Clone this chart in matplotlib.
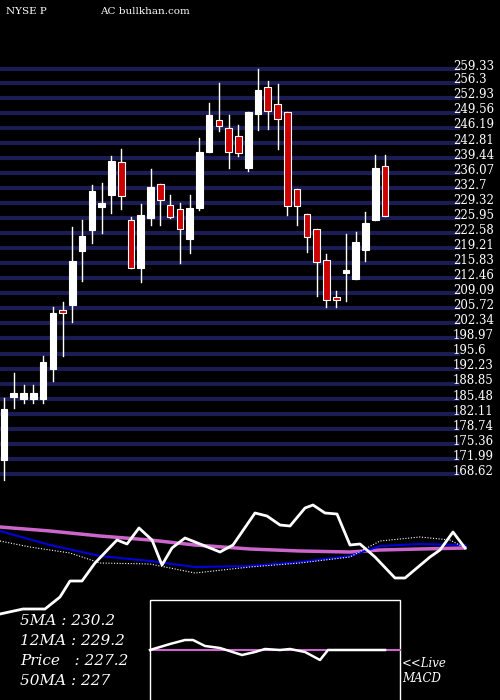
import matplotlib
matplotlib.use("Agg")
import matplotlib.pyplot as plt

# candles: open, high, low, close
opens = [171.7, 185.9, 185.4, 185.4, 185.4, 192.1, 205.1, 206.5, 218.6, 223.3,
         228.4, 231.1, 238.5, 225.5, 214.8, 226.0, 233.6, 228.9, 228.0, 221.2,
         228.2, 240.7, 247.9, 246.1, 244.3, 237.1, 249.2, 255.3, 251.5, 249.7,
         232.4, 226.8, 223.5, 216.5, 208.3, 213.6, 212.3, 218.8, 225.5, 237.6]
highs = [185.6, 191.2, 188.5, 188.5, 195.0, 206.0, 207.1, 223.9, 225.5, 233.3,
         233.8, 239.8, 241.4, 226.2, 229.1, 236.9, 233.6, 231.1, 229.3, 231.1,
         243.9, 251.7, 256.2, 249.0, 246.8, 249.7, 259.3, 256.6, 256.0, 249.7,
         232.4, 226.8, 223.5, 217.9, 209.7, 222.4, 222.8, 227.3, 240.1, 240.1]
lows = [167.3, 183.4, 184.5, 184.5, 184.5, 189.4, 195.0, 202.7, 211.8, 220.4,
        222.6, 227.1, 228.0, 214.8, 211.6, 224.4, 224.4, 226.0, 215.9, 218.1,
        227.7, 240.7, 245.4, 237.1, 239.8, 236.5, 245.6, 245.9, 241.4, 226.6,
        224.4, 218.3, 208.5, 206.0, 206.0, 207.4, 212.3, 216.3, 225.5, 226.4]
closes = [183.2, 186.8, 186.8, 186.8, 193.7, 204.7, 204.7, 216.3, 221.9, 232.0,
          229.3, 238.7, 230.9, 214.8, 226.6, 232.9, 230.0, 226.2, 223.5, 228.2,
          240.7, 249.0, 246.5, 240.7, 240.5, 249.7, 254.6, 249.9, 248.1, 228.6,
          228.6, 221.7, 216.1, 207.6, 207.6, 214.3, 220.6, 224.8, 237.1, 226.4]
price_levels = [259.33, 256.3, 252.93, 249.56, 246.19, 242.81, 239.44, 236.07, 232.7,
                229.32, 225.95, 222.58, 219.21, 215.83, 212.46, 209.09, 205.72, 202.34,
                198.97, 195.6, 192.23, 188.85, 185.48, 182.11, 178.74, 175.36, 171.99, 168.62]

# indicator panel (pixel-scale readings)
ind_x = [0, 50, 100, 150, 195, 250, 300, 350, 380, 420, 465]
ma_pink = [527, 531, 536, 540, 545, 549, 551, 552, 550, 549, 548]
ma_blue = [531, 545, 556, 561, 567, 566, 562, 556, 546, 544, 545]
dot_x = [0, 30, 70, 100, 150, 195, 250, 300, 350, 380, 420, 450, 465]
ma_dot = [541, 547, 553, 563, 564, 573, 567, 563, 557, 541, 537, 540, 548]
osc_x = [0, 23, 45, 60, 70, 82, 95, 117, 127, 139, 152, 162, 172, 185, 220, 233, 255,
         267, 280, 290, 305, 313, 325, 337, 350, 360, 375, 395, 405, 430, 440, 453, 465]
osc = [614, 609, 609, 597, 581, 581, 563, 540, 544, 528, 540, 565, 548, 538, 552, 545, 513,
       516, 525, 526, 508, 505, 513, 514, 545, 544, 557, 578, 578, 557, 550, 532, 548]
macd_x = [150, 170, 185, 193, 205, 220, 242, 255, 265, 280, 290, 305, 320, 328, 385]
macd = [650, 644, 640, 640, 646, 648, 655, 652, 649, 650, 649, 652, 660, 650, 650]

W, H = 500, 700
fig = plt.figure(figsize=(5, 7), dpi=100, facecolor="black")

# ---------------------------------------------------------- price panel
ax = fig.add_axes([0, 0, 1, 1])
ax.set_facecolor("black")
ax.axis("off")
step = 9.77
ax.set_xlim(-4 / step, (W - 4) / step)
ax.set_ylim(259.33 - (H - 69) * 0.224, 259.33 + 69 * 0.224)

for lv in price_levels:
    ax.plot([-0.5, 454 / step], [lv, lv], color="#1c1c55", lw=3, zorder=1)
    ax.text(449 / step, lv + 0.6, f"{lv:g}", color="white", fontsize=8.5,
            family="DejaVu Serif", va="center", ha="left")

for i, (o, h, l, c) in enumerate(zip(opens, highs, lows, closes)):
    ax.plot([i, i], [l, h], color="white", lw=1, zorder=2)
    up = c >= o
    lo, hi = min(o, c), max(o, c)
    ax.bar(i, max(hi - lo, 0.6), bottom=lo, width=0.68,
           color="white" if up else "#cc0000", edgecolor="white", lw=0.8, zorder=3)

# ---------------------------------------------------------- indicator panel
ax2 = fig.add_axes([0, 0, 1, 1])
ax2.set_xlim(0, W)
ax2.set_ylim(H, 0)
ax2.axis("off")
ax2.patch.set_alpha(0)
ax2.plot(ind_x, ma_pink, color="#cc66cc", lw=2.5)
ax2.plot(ind_x, ma_blue, color="#0000dd", lw=1.5)
ax2.plot(dot_x, ma_dot, color="white", lw=0.8, ls=(0, (1, 1.5)))
ax2.plot(osc_x, osc, color="white", lw=2)

ax2.add_patch(plt.Rectangle((150, 600), 250, 105, fill=False, edgecolor="white", lw=1))
ax2.plot([150, 400], [650, 650], color="#cc66cc", lw=1.5)
ax2.plot(macd_x, macd, color="white", lw=1.8)

txt = dict(color="white", family="DejaVu Serif", style="italic", fontsize=11)
ax2.text(20, 625, "5MA : 230.2", **txt)
ax2.text(20, 645, "12MA : 229.2", **txt)
ax2.text(20, 665, "Price   : 227.2", **txt)
ax2.text(20, 685, "50MA : 227", **txt)
ax2.text(402, 667, "<<Live", color="white", family="DejaVu Serif", style="italic", fontsize=8.5)
ax2.text(402, 682, "MACD", color="white", family="DejaVu Serif", style="italic", fontsize=8.5)
ax2.text(6, 14, "NYSE P", color="white", family="DejaVu Serif", fontsize=7.5)
ax2.text(100, 14, "AC bullkhan.com", color="white", family="DejaVu Serif", fontsize=7.5)

fig.savefig("out.png", facecolor="black")
